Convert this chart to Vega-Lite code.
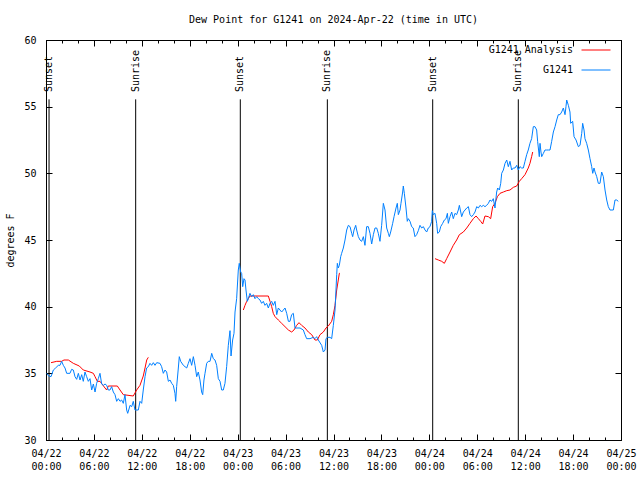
{
"$schema": "https://vega.github.io/schema/vega-lite/v6.json",
"width": 575, "height": 400,
"autosize": {"type": "none"},
"padding": {"left": 46, "top": 40, "right": 19, "bottom": 40},
"background": "white",
"title": {"text": "Dew Point for G1241 on 2024-Apr-22 (time in UTC)", "font": "DejaVu Sans Mono", "fontSize": 10, "fontWeight": "normal", "color": "black", "offset": 10, "anchor": "middle"},
"config": {
 "view": {"stroke": "black", "strokeWidth": 1},
 "axis": {"grid": false, "domainColor": "black", "tickColor": "black", "labelColor": "black", "labelFont": "DejaVu Sans Mono", "labelFontSize": 10, "titleFont": "DejaVu Sans Mono", "titleFontSize": 10, "titleFontWeight": "normal", "titleColor": "black"}
},
"datasets": {
 "sun": [
  {"t": 0.38, "label": "Sunset"}, {"t": 11.23, "label": "Sunrise"},
  {"t": 24.33, "label": "Sunset"}, {"t": 35.23, "label": "Sunrise"},
  {"t": 48.42, "label": "Sunset"}, {"t": 59.14, "label": "Sunrise"}
 ],
 "analysis": [
  {"t":0.63,"v":35.8,"seg":1},{"t":1.34,"v":35.9,"seg":1},{"t":1.96,"v":35.9,"seg":1},{"t":2.25,"v":36.0,"seg":1},{"t":2.8,"v":36.0,"seg":1},{"t":3.42,"v":35.75,"seg":1},{"t":4.17,"v":35.55,"seg":1},{"t":4.67,"v":35.25,"seg":1},{"t":5.51,"v":35.1,"seg":1},{"t":5.93,"v":35.0,"seg":1},{"t":6.14,"v":34.75,"seg":1},{"t":6.43,"v":34.4,"seg":1},{"t":6.76,"v":34.4,"seg":1},{"t":7.39,"v":33.9,"seg":1},{"t":7.6,"v":33.75,"seg":1},{"t":7.8,"v":34.05,"seg":1},{"t":8.93,"v":34.05,"seg":1},{"t":9.27,"v":33.75,"seg":1},{"t":9.68,"v":33.4,"seg":1},{"t":10.93,"v":33.3,"seg":1},{"t":11.35,"v":33.75,"seg":1},{"t":11.77,"v":34.1,"seg":1},{"t":12.18,"v":34.8,"seg":1},{"t":12.4,"v":35.4,"seg":1},{"t":12.61,"v":36.0,"seg":1},{"t":12.81,"v":36.2,"seg":1},
  {"t":24.71,"v":39.75,"seg":2},{"t":24.92,"v":40.1,"seg":2},{"t":25.13,"v":40.4,"seg":2},{"t":25.33,"v":40.6,"seg":2},{"t":25.54,"v":40.8,"seg":2},{"t":27.84,"v":40.8,"seg":2},{"t":28.05,"v":40.4,"seg":2},{"t":28.26,"v":40.0,"seg":2},{"t":28.46,"v":39.5,"seg":2},{"t":28.68,"v":39.25,"seg":2},{"t":29.09,"v":39.0,"seg":2},{"t":29.51,"v":38.75,"seg":2},{"t":29.93,"v":38.5,"seg":2},{"t":30.35,"v":38.25,"seg":2},{"t":30.76,"v":38.1,"seg":2},{"t":31.05,"v":38.25,"seg":2},{"t":31.39,"v":38.6,"seg":2},{"t":31.68,"v":38.8,"seg":2},{"t":32.01,"v":38.6,"seg":2},{"t":32.43,"v":38.4,"seg":2},{"t":32.85,"v":38.1,"seg":2},{"t":33.27,"v":37.9,"seg":2},{"t":33.68,"v":37.5,"seg":2},{"t":33.98,"v":37.5,"seg":2},{"t":34.31,"v":37.9,"seg":2},{"t":34.73,"v":38.1,"seg":2},{"t":35.06,"v":38.4,"seg":2},{"t":35.35,"v":38.55,"seg":2},{"t":35.77,"v":38.9,"seg":2},{"t":35.98,"v":39.4,"seg":2},{"t":36.19,"v":40.1,"seg":2},{"t":36.4,"v":41.25,"seg":2},{"t":36.6,"v":42.0,"seg":2},{"t":36.73,"v":42.5,"seg":2},{"t":36.81,"v":42.5,"seg":2},
  {"t":48.71,"v":43.6,"seg":3},{"t":49.13,"v":43.5,"seg":3},{"t":49.55,"v":43.4,"seg":3},{"t":49.88,"v":43.25,"seg":3},{"t":50.17,"v":43.6,"seg":3},{"t":50.59,"v":44.1,"seg":3},{"t":51.0,"v":44.6,"seg":3},{"t":51.42,"v":45.0,"seg":3},{"t":51.76,"v":45.4,"seg":3},{"t":52.26,"v":45.6,"seg":3},{"t":52.68,"v":45.9,"seg":3},{"t":53.09,"v":46.25,"seg":3},{"t":53.51,"v":46.6,"seg":3},{"t":53.85,"v":46.8,"seg":3},{"t":54.14,"v":46.6,"seg":3},{"t":54.43,"v":46.4,"seg":3},{"t":54.68,"v":46.2,"seg":3},{"t":54.97,"v":46.8,"seg":3},{"t":55.39,"v":46.75,"seg":3},{"t":55.68,"v":46.6,"seg":3},{"t":55.93,"v":47.5,"seg":3},{"t":56.22,"v":47.75,"seg":3},{"t":56.52,"v":48.25,"seg":3},{"t":56.85,"v":48.5,"seg":3},{"t":57.27,"v":48.6,"seg":3},{"t":57.69,"v":48.7,"seg":3},{"t":58.1,"v":48.75,"seg":3},{"t":58.52,"v":48.95,"seg":3},{"t":58.94,"v":49.05,"seg":3},{"t":59.27,"v":49.4,"seg":3},{"t":59.56,"v":49.6,"seg":3},{"t":59.98,"v":49.9,"seg":3},{"t":60.39,"v":50.4,"seg":3},{"t":60.6,"v":50.75,"seg":3},{"t":60.81,"v":51.25,"seg":3},{"t":60.94,"v":51.6,"seg":3}
 ],
 "obs": [
  {"t":0.08,"v":35.0},{"t":0.35,"v":34.8},{"t":0.63,"v":34.75},{"t":0.92,"v":35.25},{"t":1.2,"v":35.4},{"t":1.54,"v":35.6},{"t":1.75,"v":35.6},{"t":1.96,"v":35.9},{"t":2.17,"v":35.6},{"t":2.38,"v":35.4},{"t":2.59,"v":35.0},{"t":3.0,"v":35.0},{"t":3.21,"v":35.3},{"t":3.42,"v":35.25},{"t":3.63,"v":34.75},{"t":3.84,"v":34.55},{"t":4.05,"v":35.0},{"t":4.26,"v":34.5},{"t":4.47,"v":34.9},{"t":4.67,"v":34.4},{"t":4.88,"v":35.1},{"t":5.09,"v":34.75},{"t":5.3,"v":34.4},{"t":5.51,"v":34.6},{"t":5.72,"v":33.75},{"t":5.93,"v":34.2},{"t":6.14,"v":33.6},{"t":6.34,"v":34.25},{"t":6.55,"v":34.6},{"t":6.76,"v":35.0},{"t":6.97,"v":34.2},{"t":7.18,"v":34.1},{"t":7.39,"v":34.2},{"t":7.6,"v":34.1},{"t":7.8,"v":33.75},{"t":8.01,"v":33.75},{"t":8.22,"v":34.0},{"t":8.43,"v":33.6},{"t":8.64,"v":33.4},{"t":8.85,"v":32.9},{"t":9.06,"v":33.1},{"t":9.27,"v":32.9},{"t":9.47,"v":33.0},{"t":9.68,"v":32.75},{"t":9.89,"v":33.4},{"t":10.1,"v":32.25},{"t":10.23,"v":32.0},{"t":10.43,"v":32.4},{"t":10.52,"v":32.6},{"t":10.73,"v":32.5},{"t":10.93,"v":32.9},{"t":11.14,"v":32.25},{"t":11.56,"v":32.25},{"t":11.77,"v":32.9},{"t":11.98,"v":32.75},{"t":12.18,"v":33.75},{"t":12.4,"v":34.75},{"t":12.6,"v":35.4},{"t":12.81,"v":35.5},{"t":13.02,"v":35.75},{"t":13.23,"v":35.6},{"t":13.44,"v":35.8},{"t":13.65,"v":35.6},{"t":13.86,"v":35.8},{"t":14.27,"v":35.75},{"t":14.48,"v":35.5},{"t":14.69,"v":35.0},{"t":14.9,"v":35.25},{"t":15.11,"v":35.1},{"t":15.32,"v":34.4},{"t":15.53,"v":34.5},{"t":15.74,"v":34.25},{"t":15.94,"v":34.1},{"t":16.15,"v":33.5},{"t":16.24,"v":32.9},{"t":16.36,"v":34.0},{"t":16.57,"v":35.4},{"t":16.69,"v":36.25},{"t":16.86,"v":35.9},{"t":17.2,"v":35.6},{"t":17.62,"v":35.4},{"t":17.82,"v":35.75},{"t":18.03,"v":36.1},{"t":18.24,"v":35.6},{"t":18.45,"v":36.25},{"t":18.66,"v":35.6},{"t":18.87,"v":34.75},{"t":19.07,"v":35.1},{"t":19.28,"v":34.5},{"t":19.49,"v":33.6},{"t":19.62,"v":33.4},{"t":19.78,"v":34.5},{"t":19.91,"v":35.0},{"t":20.12,"v":35.75},{"t":20.32,"v":35.9},{"t":20.54,"v":35.9},{"t":20.75,"v":36.5},{"t":20.95,"v":36.1},{"t":21.16,"v":36.0},{"t":21.37,"v":35.6},{"t":21.58,"v":34.6},{"t":21.79,"v":34.4},{"t":22.0,"v":33.75},{"t":22.2,"v":33.75},{"t":22.41,"v":34.25},{"t":22.62,"v":35.5},{"t":22.83,"v":37.1},{"t":23.04,"v":38.2},{"t":23.17,"v":36.3},{"t":23.37,"v":37.5},{"t":23.54,"v":38.0},{"t":23.67,"v":39.6},{"t":23.87,"v":40.6},{"t":24.08,"v":42.75},{"t":24.2,"v":43.25},{"t":24.38,"v":42.6},{"t":24.5,"v":42.5},{"t":24.63,"v":41.5},{"t":24.79,"v":42.1},{"t":24.92,"v":42.0},{"t":25.04,"v":41.25},{"t":25.21,"v":40.4},{"t":25.33,"v":40.6},{"t":25.54,"v":41.0},{"t":25.75,"v":40.75},{"t":25.96,"v":40.9},{"t":26.17,"v":40.6},{"t":26.38,"v":40.75},{"t":26.59,"v":40.6},{"t":26.8,"v":40.5},{"t":27.0,"v":40.25},{"t":27.21,"v":40.4},{"t":27.42,"v":40.1},{"t":27.63,"v":40.25},{"t":27.84,"v":39.9},{"t":28.05,"v":40.25},{"t":28.26,"v":40.4},{"t":28.46,"v":40.1},{"t":28.68,"v":40.4},{"t":28.89,"v":39.4},{"t":29.09,"v":39.9},{"t":29.3,"v":39.75},{"t":29.51,"v":39.6},{"t":29.72,"v":39.75},{"t":29.93,"v":39.9},{"t":30.14,"v":39.5},{"t":30.35,"v":38.9},{"t":30.55,"v":38.9},{"t":30.76,"v":39.4},{"t":30.97,"v":39.5},{"t":31.18,"v":38.4},{"t":31.81,"v":38.4},{"t":32.22,"v":38.25},{"t":32.43,"v":37.9},{"t":32.64,"v":37.6},{"t":33.06,"v":37.6},{"t":33.47,"v":37.7},{"t":33.68,"v":37.6},{"t":33.89,"v":37.75},{"t":34.1,"v":37.5},{"t":34.52,"v":37.1},{"t":34.73,"v":36.6},{"t":34.94,"v":36.75},{"t":35.06,"v":37.6},{"t":35.23,"v":37.7},{"t":35.56,"v":37.7},{"t":35.77,"v":37.6},{"t":35.98,"v":38.6},{"t":36.19,"v":39.75},{"t":36.31,"v":41.25},{"t":36.4,"v":42.4},{"t":36.48,"v":43.25},{"t":36.6,"v":42.9},{"t":36.73,"v":43.1},{"t":36.9,"v":43.75},{"t":37.02,"v":44.0},{"t":37.23,"v":44.4},{"t":37.44,"v":45.0},{"t":37.65,"v":45.75},{"t":37.86,"v":46.1},{"t":38.07,"v":46.0},{"t":38.28,"v":45.5},{"t":38.4,"v":45.25},{"t":38.57,"v":45.75},{"t":38.78,"v":46.1},{"t":38.9,"v":45.75},{"t":39.11,"v":45.25},{"t":39.32,"v":45.0},{"t":39.53,"v":44.9},{"t":39.74,"v":45.25},{"t":39.94,"v":44.6},{"t":40.15,"v":46.0},{"t":40.36,"v":46.0},{"t":40.57,"v":45.5},{"t":40.78,"v":44.7},{"t":40.99,"v":45.4},{"t":41.2,"v":45.9},{"t":41.41,"v":45.9},{"t":41.61,"v":45.5},{"t":41.82,"v":44.9},{"t":42.03,"v":46.1},{"t":42.24,"v":47.75},{"t":42.45,"v":47.25},{"t":42.66,"v":45.9},{"t":42.87,"v":45.5},{"t":42.99,"v":45.25},{"t":43.16,"v":45.6},{"t":43.41,"v":46.25},{"t":43.58,"v":46.75},{"t":43.83,"v":47.4},{"t":43.99,"v":47.75},{"t":44.12,"v":46.9},{"t":44.33,"v":47.25},{"t":44.45,"v":47.75},{"t":44.66,"v":48.6},{"t":44.74,"v":49.05},{"t":44.87,"v":48.5},{"t":45.08,"v":47.4},{"t":45.24,"v":46.4},{"t":45.37,"v":46.6},{"t":45.58,"v":46.4},{"t":45.79,"v":46.0},{"t":45.99,"v":45.9},{"t":46.2,"v":45.25},{"t":46.41,"v":45.4},{"t":46.62,"v":45.7},{"t":46.83,"v":46.1},{"t":47.04,"v":45.9},{"t":47.25,"v":46.0},{"t":47.46,"v":45.75},{"t":47.67,"v":45.6},{"t":47.87,"v":45.9},{"t":48.08,"v":46.0},{"t":48.29,"v":46.4},{"t":48.37,"v":47.2},{"t":48.5,"v":46.9},{"t":48.71,"v":47.0},{"t":48.92,"v":46.25},{"t":49.04,"v":45.5},{"t":49.25,"v":45.6},{"t":49.42,"v":46.0},{"t":49.67,"v":46.25},{"t":49.88,"v":46.5},{"t":50.09,"v":46.6},{"t":50.26,"v":47.0},{"t":50.38,"v":46.25},{"t":50.59,"v":46.75},{"t":50.8,"v":47.1},{"t":51.0,"v":46.6},{"t":51.21,"v":47.0},{"t":51.42,"v":46.9},{"t":51.63,"v":47.25},{"t":51.76,"v":47.6},{"t":51.93,"v":47.1},{"t":52.05,"v":46.75},{"t":52.26,"v":47.1},{"t":52.47,"v":47.25},{"t":52.68,"v":47.4},{"t":52.89,"v":47.5},{"t":53.09,"v":46.9},{"t":53.3,"v":46.75},{"t":53.51,"v":46.9},{"t":53.72,"v":47.1},{"t":53.93,"v":47.5},{"t":54.14,"v":47.4},{"t":54.35,"v":47.6},{"t":54.55,"v":47.5},{"t":54.76,"v":47.6},{"t":54.97,"v":47.5},{"t":55.18,"v":47.6},{"t":55.39,"v":47.75},{"t":55.6,"v":48.0},{"t":55.81,"v":47.9},{"t":56.01,"v":48.1},{"t":56.22,"v":47.4},{"t":56.43,"v":48.6},{"t":56.56,"v":48.9},{"t":56.77,"v":48.75},{"t":56.94,"v":49.25},{"t":57.06,"v":50.0},{"t":57.27,"v":50.25},{"t":57.48,"v":50.75},{"t":57.69,"v":51.0},{"t":57.89,"v":50.5},{"t":58.1,"v":50.9},{"t":58.31,"v":50.25},{"t":58.52,"v":50.4},{"t":58.73,"v":50.4},{"t":58.94,"v":50.6},{"t":59.14,"v":50.25},{"t":59.35,"v":50.5},{"t":59.56,"v":50.4},{"t":59.77,"v":50.4},{"t":59.98,"v":50.9},{"t":60.19,"v":51.4},{"t":60.39,"v":51.75},{"t":60.6,"v":52.25},{"t":60.81,"v":52.6},{"t":61.02,"v":53.5},{"t":61.23,"v":53.5},{"t":61.44,"v":53.25},{"t":61.56,"v":52.4},{"t":61.77,"v":51.25},{"t":61.86,"v":52.25},{"t":61.98,"v":51.6},{"t":62.07,"v":51.25},{"t":62.28,"v":51.5},{"t":62.48,"v":51.75},{"t":62.69,"v":51.75},{"t":62.9,"v":51.75},{"t":63.11,"v":51.75},{"t":63.32,"v":52.4},{"t":63.53,"v":53.1},{"t":63.74,"v":53.5},{"t":63.95,"v":54.0},{"t":64.15,"v":54.4},{"t":64.36,"v":54.4},{"t":64.57,"v":54.6},{"t":64.78,"v":54.9},{"t":64.99,"v":54.4},{"t":65.11,"v":55.0},{"t":65.2,"v":55.5},{"t":65.41,"v":55.1},{"t":65.61,"v":54.6},{"t":65.7,"v":53.75},{"t":65.95,"v":53.9},{"t":66.12,"v":52.75},{"t":66.37,"v":52.5},{"t":66.66,"v":52.0},{"t":66.87,"v":52.1},{"t":67.08,"v":53.0},{"t":67.2,"v":53.75},{"t":67.37,"v":53.25},{"t":67.49,"v":52.6},{"t":67.7,"v":52.25},{"t":67.91,"v":51.75},{"t":68.12,"v":51.1},{"t":68.33,"v":50.5},{"t":68.46,"v":50.0},{"t":68.62,"v":50.4},{"t":68.75,"v":50.1},{"t":68.96,"v":49.75},{"t":69.16,"v":49.25},{"t":69.37,"v":49.25},{"t":69.58,"v":50.1},{"t":69.79,"v":49.75},{"t":70.0,"v":48.75},{"t":70.21,"v":48.0},{"t":70.41,"v":47.5},{"t":70.62,"v":47.25},{"t":71.04,"v":47.25},{"t":71.25,"v":48.0},{"t":71.46,"v":48.0},{"t":71.66,"v":47.9}
 ]
},
"resolve": {"axis": {"x": "independent", "y": "independent"}},
"layer": [
 {
  "data": {"name": "sun"},
  "mark": {"type": "rule", "color": "black", "strokeWidth": 1},
  "encoding": {
   "x": {"field": "t", "type": "quantitative", "scale": {"domain": [0, 72], "nice": false, "zero": false},
    "axis": {"orient": "bottom", "title": null, "values": [0,2,4,6,8,10,12,14,16,18,20,22,24,26,28,30,32,34,36,38,40,42,44,46,48,50,52,54,56,58,60,62,64,66,68,70,72],
     "tickSize": {"condition": {"test": "datum.value % 6 === 0", "value": -6}, "value": -3},
     "labelExpr": "datum.value % 6 === 0 ? ['04/' + (22 + floor(datum.value / 24)), (datum.value % 24 < 10 ? '0' : '') + (datum.value % 24) + ':00'] : ''",
     "labelOverlap": false, "labelFlush": false, "labelPadding": 14, "labelLineHeight": 13, "labelBaseline": "top"}},
   "y": {"datum": 30, "type": "quantitative", "scale": {"domain": [30, 60], "nice": false, "zero": false},
    "axis": {"orient": "left", "title": "degrees F", "values": [30,35,40,45,50,55,60], "tickSize": -6, "labelPadding": 16, "titlePadding": 8, "format": "d"}},
   "y2": {"datum": 55.55}
  }
 },
 {
  "data": {"name": "sun"},
  "mark": {"type": "text", "angle": 270, "align": "left", "baseline": "middle", "font": "DejaVu Sans Mono", "fontSize": 10, "color": "black"},
  "encoding": {
   "x": {"field": "t", "type": "quantitative", "axis": null},
   "y": {"datum": 56.1, "type": "quantitative", "axis": null},
   "text": {"field": "label"}
  }
 },
 {
  "data": {"name": "analysis"},
  "mark": {"type": "line", "strokeWidth": 1},
  "encoding": {
   "x": {"field": "t", "type": "quantitative",
    "axis": {"orient": "top", "title": null, "labels": false, "values": [0,2,4,6,8,10,12,14,16,18,20,22,24,26,28,30,32,34,36,38,40,42,44,46,48,50,52,54,56,58,60,62,64,66,68,70,72],
     "tickSize": {"condition": {"test": "datum.value % 6 === 0", "value": -6}, "value": -3}}},
   "y": {"field": "v", "type": "quantitative", "axis": {"orient": "right", "title": null, "labels": false, "values": [30,35,40,45,50,55,60], "tickSize": -6}},
   "detail": {"field": "seg"},
   "color": {"datum": "G1241 Analysis", "type": "nominal",
    "scale": {"domain": ["G1241 Analysis", "G1241"], "range": ["#ff0000", "#0080ff"]},
    "legend": {"title": null, "orient": "none", "legendX": 535, "legendY": -5, "padding": 0, "symbolType": "stroke", "symbolSize": 841, "symbolStrokeWidth": 1, "labelAlign": "right", "labelOffset": -38, "labelFont": "DejaVu Sans Mono", "labelFontSize": 10, "labelColor": "black", "rowPadding": -24}}
  }
 },
 {
  "data": {"name": "obs"},
  "mark": {"type": "line", "strokeWidth": 1},
  "encoding": {
   "x": {"field": "t", "type": "quantitative", "axis": null},
   "y": {"field": "v", "type": "quantitative", "axis": null},
   "color": {"datum": "G1241", "type": "nominal"}
  }
 }
]
}
